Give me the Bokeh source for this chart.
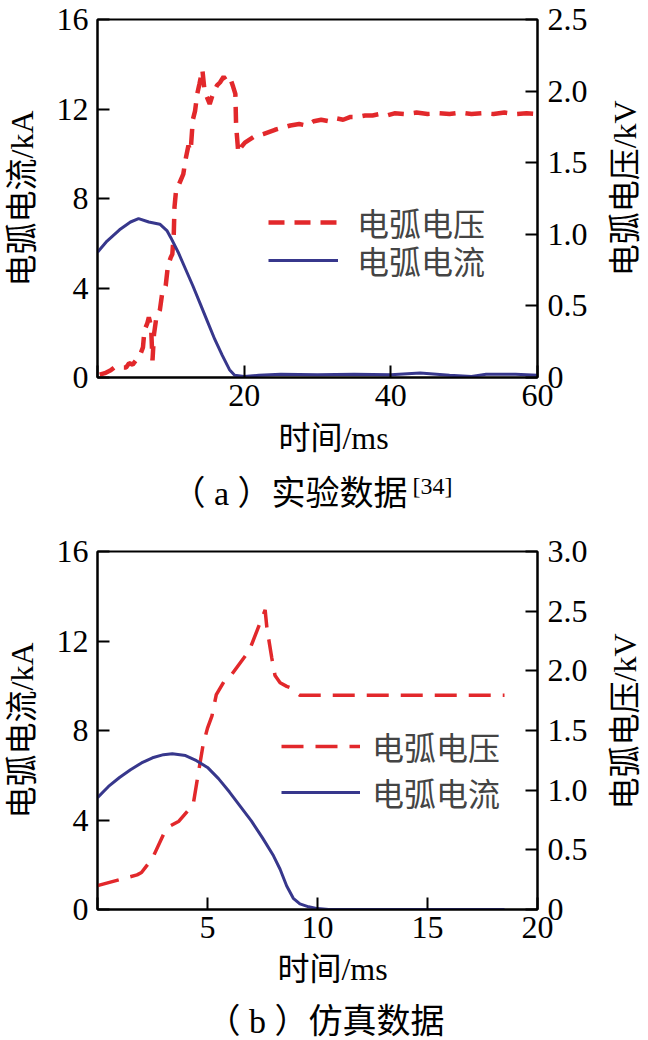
from bokeh.plotting import figure
from bokeh.models import Range1d, LinearAxis, FixedTicker, Label, Legend, LegendItem
from bokeh.layouts import column, row
from bokeh.embed import file_html
from bokeh.resources import INLINE
import math

# ---------------- data: (a) experiment ----------------
exp_v_t = [0.3, 1.0, 1.8, 2.3, 3.9, 4.3, 4.8, 5.4, 5.9, 6.2, 6.4, 6.8, 7.0, 7.3, 7.5, 7.7,
           8.0, 8.5, 8.8, 9.3, 9.6, 10.0, 10.2, 10.4, 10.5, 10.7, 11.2, 11.7, 12.0, 12.4,
           12.7, 13.0, 13.3, 13.6, 13.9, 14.3, 14.6, 14.9, 15.3, 15.8, 16.3, 16.7, 17.2,
           17.6, 18.1, 18.5, 18.8, 18.9, 19.2, 19.6, 20.1, 21.3, 22.6, 24.2, 26.3, 27.5,
           28.5, 29.5, 30.5, 31.5, 32.5, 33.5, 34.5, 35.5, 36.5, 37.5, 38.5, 39.5, 40.5,
           42.0, 43.5, 45.0, 46.5, 48.0, 49.5, 51.0, 52.5, 54.0, 55.5, 57.0, 58.5, 60.0]
exp_v_kv = [0.02, 0.03, 0.05, 0.07, 0.07, 0.10, 0.09, 0.13, 0.17, 0.21, 0.33, 0.38, 0.42, 0.36,
            0.12, 0.30, 0.41, 0.47, 0.58, 0.64, 0.78, 0.84, 0.86, 1.00, 1.19, 1.30, 1.36, 1.42,
            1.52, 1.62, 1.58, 1.80, 1.86, 1.98, 2.05, 2.15, 2.00, 1.96, 1.91, 1.99, 2.04, 2.06,
            2.10, 2.07, 2.09, 2.03, 1.98, 1.76, 1.57, 1.61, 1.64, 1.68, 1.70, 1.73, 1.76, 1.77,
            1.76, 1.79, 1.80, 1.79, 1.81, 1.80, 1.82, 1.82, 1.83, 1.83, 1.84, 1.83, 1.845,
            1.84, 1.85, 1.84, 1.845, 1.84, 1.85, 1.84, 1.845, 1.84, 1.85, 1.84, 1.845, 1.84]
exp_i_t = [0.0, 1.3, 3.0, 4.5, 5.6, 7.0, 8.5, 9.5, 10.0, 11.0, 12.0, 13.0, 14.0, 15.0, 16.0,
           17.0, 18.0, 18.7, 20.0, 22.0, 25.0, 30.0, 35.0, 40.0, 44.0, 48.0, 51.0, 53.0,
           57.0, 60.0]
exp_i_ka = [5.6, 6.1, 6.6, 6.95, 7.1, 6.95, 6.85, 6.55, 6.25, 5.6, 4.85, 4.1, 3.3, 2.5, 1.7,
            1.0, 0.35, 0.1, 0.05, 0.1, 0.15, 0.12, 0.15, 0.12, 0.2, 0.1, 0.05, 0.15, 0.15, 0.1]

# ---------------- data: (b) simulation ----------------
sim_v_t = [0.0, 1.0, 1.8, 2.0, 2.5, 3.0, 3.3, 3.7, 4.35, 4.6, 4.8, 5.0, 5.2, 5.4, 5.75, 6.1,
           6.9, 7.62, 7.7, 7.92, 8.07, 8.3, 8.6, 8.75, 9.0, 9.2, 18.5]
sim_v_kv = [0.20, 0.25, 0.29, 0.31, 0.43, 0.63, 0.70, 0.74, 0.88, 1.16, 1.38, 1.52, 1.62, 1.80,
            1.91, 1.97, 2.17, 2.51, 2.36, 2.11, 1.96, 1.90, 1.87, 1.86, 1.82, 1.795, 1.795]
sim_i_t = [0.0, 0.5, 1.0, 1.5, 2.0, 2.5, 3.0, 3.4, 4.0, 4.5, 5.0, 5.5, 6.0, 6.5, 7.0, 7.5,
           8.0, 8.3, 8.6, 8.9, 9.2, 9.6, 10.0, 10.5, 18.5]
sim_i_ka = [5.0, 5.5, 5.9, 6.25, 6.55, 6.78, 6.92, 6.96, 6.88, 6.65, 6.35, 5.85, 5.25, 4.6,
            3.95, 3.2, 2.4, 1.8, 1.05, 0.5, 0.25, 0.12, 0.04, 0.0, 0.0]

# ---------------- ticks and texts ----------------
left_ticks = [0, 4, 8, 12, 16]
a_x_ticks = [0, 20, 40, 60]
a_v_ticks = [0, 0.5, 1.0, 1.5, 2.0, 2.5]
b_x_ticks = [0, 5, 10, 15, 20]
b_v_ticks = [0, 0.5, 1.0, 1.5, 2.0, 2.5, 3.0]
name_v = "电弧电压"
name_i = "电弧电流"
xlabel = "时间/ms"
ylabel_l = "电弧电流/kA"
ylabel_r = "电弧电压/kV"
cap_a = "（ a ）实验数据"
cap_a_ref = "[34]"
cap_b = "（ b ）仿真数据"

RED = "#E2282B"
BLUE = "#37378C"
SERIF = "Liberation Serif"
MIX = "Liberation Serif, Noto Sans CJK SC"
FS = "32px"


def fmt(v):
    return "0" if v == 0 else f"{v:.1f}"


def make_fig(height, top, bottom, xmax, x_ticks, vmax, v_ticks):
    p = figure(width=600, height=height, output_backend="svg", toolbar_location=None,
               x_range=Range1d(0, xmax), y_range=Range1d(0, 16),
               min_border_left=97, min_border_right=63, min_border_top=top,
               min_border_bottom=bottom, x_axis_location=None, y_axis_location=None)
    p.xgrid.visible = False
    p.ygrid.visible = False
    p.outline_line_color = "black"
    p.outline_line_width = 2
    p.background_fill_color = "white"
    p.border_fill_color = "white"
    p.extra_y_ranges = {"v": Range1d(0, vmax)}

    xa = LinearAxis(ticker=FixedTicker(ticks=x_ticks),
                    major_label_overrides={t: ("" if t == 0 else str(t)) for t in x_ticks})
    ya = LinearAxis(ticker=FixedTicker(ticks=left_ticks), axis_label=ylabel_l,
                    axis_label_text_font=MIX, axis_label_text_font_size=FS,
                    axis_label_text_font_style="normal", axis_label_standoff=14,
                    axis_label_text_color="black")
    ra = LinearAxis(y_range_name="v", ticker=FixedTicker(ticks=v_ticks),
                    major_label_overrides={t: fmt(t) for t in v_ticks})
    for ax, st in ((xa, 7), (ya, 9), (ra, 10)):
        ax.axis_line_width = 2
        ax.axis_line_color = "black"
        ax.major_tick_in = 12
        ax.major_tick_out = 0
        ax.major_tick_line_width = 2
        ax.minor_tick_line_color = None
        ax.major_label_text_font = SERIF
        ax.major_label_text_font_size = FS
        ax.major_label_text_color = "black"
        ax.major_label_standoff = st
    p.add_layout(xa, "below")
    p.add_layout(ya, "left")
    p.add_layout(ra, "right")
    return p


def text_fig(width, height):
    t = figure(width=width, height=height, output_backend="svg", toolbar_location=None,
               x_range=Range1d(0, width), y_range=Range1d(0, height),
               min_border_left=0, min_border_right=0, min_border_top=0, min_border_bottom=0,
               x_axis_location=None, y_axis_location=None)
    t.xgrid.visible = False
    t.ygrid.visible = False
    t.outline_line_color = None
    t.background_fill_color = "white"
    t.border_fill_color = "white"
    return t


def add_label(p, text, x, y, size=FS, angle=0.0, align="center", font=MIX):
    p.add_layout(Label(x=x, y=y, text=text, text_font=font, text_font_size=size,
                       text_align=align, text_baseline="middle", angle=angle,
                       text_color="black"))


def add_legend(p, label, rend, loc, gw, standoff):
    lg = Legend(items=[LegendItem(label=label, renderers=[rend])], location=loc,
                glyph_width=gw, glyph_height=46, label_height=46, label_standoff=standoff,
                spacing=0, padding=0, margin=0, label_text_font=MIX,
                label_text_font_size=FS, border_line_color=None, background_fill_alpha=0)
    p.add_layout(lg)


# ---------------- panel (a) ----------------
p1 = make_fig(420, 19, 43, 60, a_x_ticks, 2.5, a_v_ticks)
rv1 = p1.line(exp_v_t, exp_v_kv, y_range_name="v", line_color=RED, line_width=4.5,
              line_dash="16 10")
ri1 = p1.line(exp_i_t, exp_i_ka, line_color=BLUE, line_width=3)
add_legend(p1, name_v, rv1, (171, 132), 70, 19)
add_legend(p1, name_i, ri1, (171, 94), 70, 19)

r1 = text_fig(48, 420)
add_label(r1, ylabel_r, 24, 420 - 198, angle=math.pi / 2)

c1 = text_fig(648, 100)
add_label(c1, xlabel, 333, 83)
add_label(c1, cap_a, 289, 27, size="34px")
add_label(c1, cap_a_ref, 412, 35, size="24px", align="left", font=SERIF)

# ---------------- panel (b) ----------------
p2 = make_fig(432, 31, 43, 20, b_x_ticks, 3.0, b_v_ticks)
rv2 = p2.line(sim_v_t, sim_v_kv, y_range_name="v", line_color=RED, line_width=3.5,
              line_dash="22 12")
ri2 = p2.line(sim_i_t, sim_i_ka, line_color=BLUE, line_width=3)
add_legend(p2, name_v, rv2, (184, 140), 79, 12)
add_legend(p2, name_i, ri2, (184, 94), 79, 12)

r2 = text_fig(48, 432)
add_label(r2, ylabel_r, 24, 432 - 205, angle=math.pi / 2)

c2 = text_fig(648, 88)
add_label(c2, xlabel, 332, 72)
add_label(c2, cap_b, 325, 19, size="34px")

layout = column(row(p1, r1, spacing=0), c1, row(p2, r2, spacing=0), c2, spacing=0)
open("out.html", "w").write(file_html(layout, INLINE))
